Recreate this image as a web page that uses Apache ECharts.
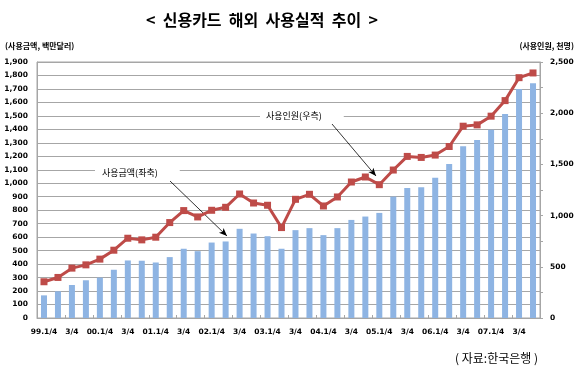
<!DOCTYPE html>
<html>
<head>
<meta charset="utf-8">
<script src="https://cdn.jsdelivr.net/npm/echarts@6/dist/echarts.min.js"></script>
<style>
  html, body { margin: 0; padding: 0; background: #fff; }
  #chart { width: 580px; height: 375px; }
</style>
</head>
<body>
<div id="chart"></div>
<script>
// 분기 라벨 (99.1/4 ~ 07.4/4)
var quarters = [
  '99.1/4', '2/4', '3/4', '4/4',
  '00.1/4', '2/4', '3/4', '4/4',
  '01.1/4', '2/4', '3/4', '4/4',
  '02.1/4', '2/4', '3/4', '4/4',
  '03.1/4', '2/4', '3/4', '4/4',
  '04.1/4', '2/4', '3/4', '4/4',
  '05.1/4', '2/4', '3/4', '4/4',
  '06.1/4', '2/4', '3/4', '4/4',
  '07.1/4', '2/4', '3/4', '4/4'
]
// 사용금액 (백만달러, 좌축)
var amount = [
  168, 198, 245, 280, 300, 358, 427, 425, 412, 452,
  514, 496, 560, 568, 662, 627, 607, 514, 652, 667,
  615, 667, 728, 753, 780, 901, 965, 970, 1040, 1143,
  1274, 1321, 1398, 1514, 1699, 1743
]
// 사용인원 (천명, 우축)
var users = [
  354, 396, 487, 519, 575, 662, 779, 763, 789, 932,
  1049, 987, 1052, 1081, 1211, 1123, 1101, 883, 1159, 1208,
  1094, 1182, 1328, 1377, 1302, 1445, 1578, 1568, 1591, 1675,
  1873, 1886, 1971, 2123, 2347, 2393
]

var labelFont = 'DejaVu Sans'
var krFont = '"Noto Sans CJK KR", sans-serif'

var myChart = echarts.init(document.getElementById('chart'))
var option = {
  animation: false,
  title: {
    text: '<  신용카드  해외  사용실적  추이  >',
    left: 141,
    top: 7,
    textStyle: { fontFamily: krFont, fontSize: 16, fontWeight: 'bold', color: '#000' }
  },
  grid: {
    left: 37,
    right: 40,
    top: 62,
    bottom: 57,
    show: true,
    borderColor: '#a6a6a6',
    borderWidth: 1
  },
  xAxis: {
    type: 'category',
    data: quarters,
    axisLine: { lineStyle: { color: '#a6a6a6' } },
    axisTick: { show: true, inside: true, length: 3, lineStyle: { color: '#a6a6a6' } },
    axisLabel: {
      interval: 1,
      margin: 10,
      color: '#000',
      fontFamily: labelFont,
      fontWeight: 'bold',
      fontSize: 7.5
    }
  },
  yAxis: [
    {
      type: 'value',
      min: 0,
      max: 1900,
      interval: 100,
      name: '(사용금액, 백만달러)',
      nameLocation: 'end',
      nameGap: 12,
      nameTextStyle: { fontFamily: krFont, fontSize: 8, fontWeight: 'bold', color: '#000', align: 'left', padding: [0, 0, 0, -32] },
      axisLine: { show: true, lineStyle: { color: '#a6a6a6' } },
      axisTick: { show: false },
      splitLine: { lineStyle: { color: '#a6a6a6', width: 1 } },
      axisLabel: {
        margin: 9,
        color: '#000',
        fontFamily: labelFont,
        fontWeight: 'bold',
        fontSize: 7.5,
        formatter: function (v) { return v.toLocaleString('en-US') }
      }
    },
    {
      type: 'value',
      min: 0,
      max: 2500,
      interval: 500,
      name: '(사용인원, 천명)',
      nameLocation: 'end',
      nameGap: 12,
      nameTextStyle: { fontFamily: krFont, fontSize: 8, fontWeight: 'bold', color: '#000', align: 'right', padding: [0, -34, 0, 0] },
      axisLine: { show: true, lineStyle: { color: '#a6a6a6' } },
      axisTick: { show: true, length: 3, lineStyle: { color: '#a6a6a6' } },
      minorTick: { show: true, splitNumber: 2, length: 3, lineStyle: { color: '#a6a6a6' } },
      splitLine: { show: false },
      axisLabel: {
        margin: 10,
        color: '#000',
        fontFamily: labelFont,
        fontWeight: 'bold',
        fontSize: 7.5,
        formatter: function (v) { return v.toLocaleString('en-US') }
      }
    }
  ],
  series: [
    {
      name: '사용금액',
      type: 'bar',
      yAxisIndex: 0,
      barWidth: 6,
      itemStyle: { color: '#8eb4e3' },
      data: amount,
      markLine: {
        silent: true,
        symbol: ['none', 'arrow'],
        symbolSize: [5, 8],
        label: { show: false },
        lineStyle: { color: '#000', width: 0.8, type: 'solid' },
        data: [
          [{ x: 170, y: 181 }, { x: 227, y: 236 }],
          [{ x: 332, y: 124 }, { x: 376, y: 176 }]
        ]
      }
    },
    {
      name: '사용인원',
      type: 'line',
      yAxisIndex: 1,
      symbol: 'rect',
      symbolSize: 7,
      showSymbol: true,
      lineStyle: { color: '#be4b48', width: 3 },
      itemStyle: { color: '#be4b48' },
      z: 5,
      data: users
    }
  ],
  graphic: [
    {
      type: 'text',
      left: 95,
      top: 166,
      z: 10,
      style: {
        text: '사용금액(좌축)',
        font: '9px ' + krFont,
        fill: '#000',
        backgroundColor: '#fff',
        padding: [2, 22, 2, 7]
      }
    },
    {
      type: 'text',
      left: 260,
      top: 109,
      z: 10,
      style: {
        text: '사용인원(우측)',
        font: '9px ' + krFont,
        fill: '#000',
        backgroundColor: '#fff',
        padding: [2, 22, 2, 6]
      }
    },
    {
      type: 'text',
      left: 455,
      top: 352,
      style: {
        text: '( 자료:한국은행 )',
        font: '12px ' + krFont,
        fill: '#000'
      }
    }
  ]
}
myChart.setOption(option, true)
</script>
</body>
</html>
